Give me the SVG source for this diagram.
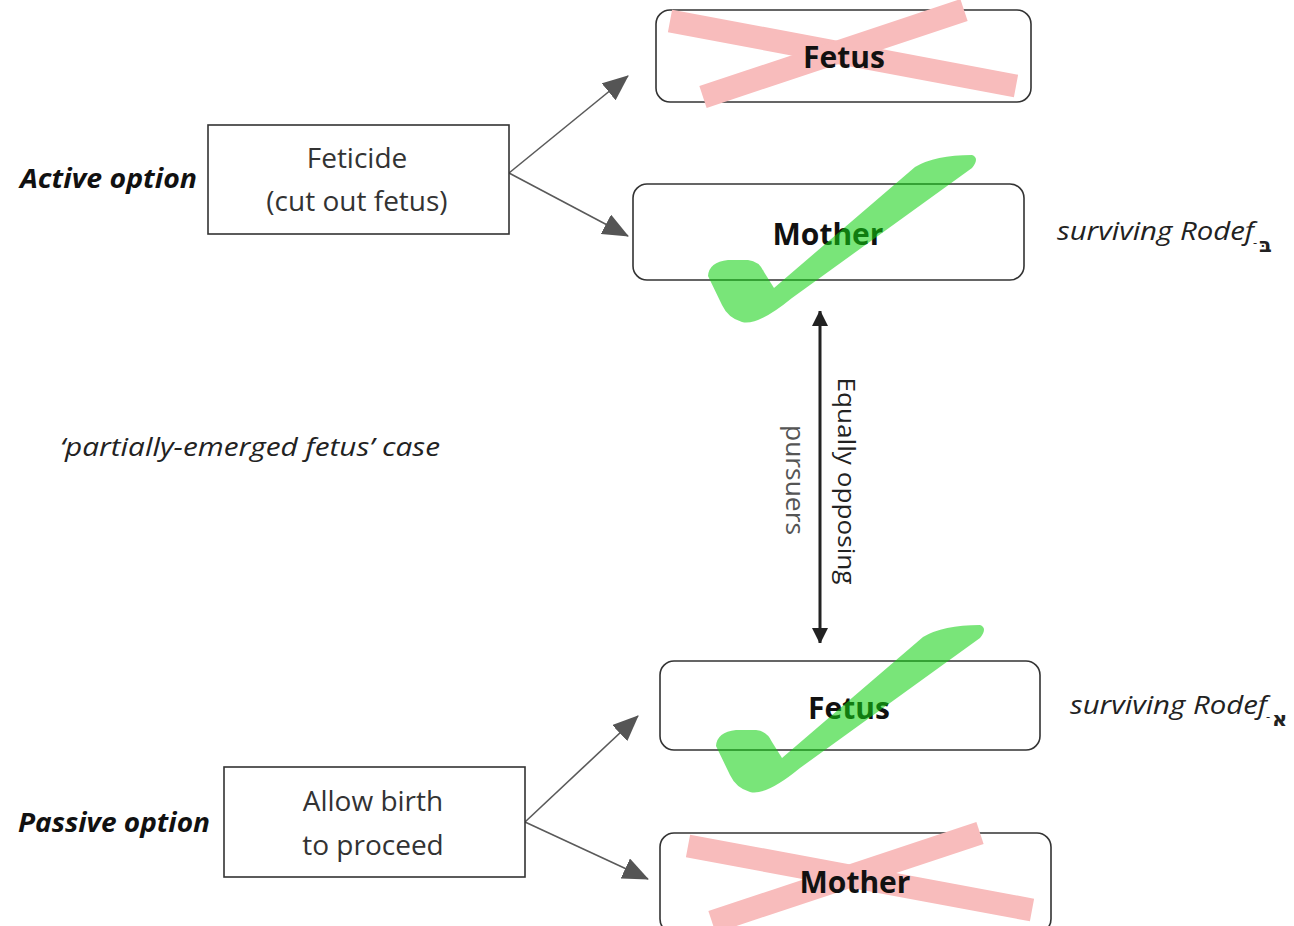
<svg xmlns="http://www.w3.org/2000/svg" width="1294" height="926" viewBox="0 0 1294 926">
  <defs>
    <style>
      .box { fill: #ffffff; stroke: #333333; stroke-width: 1.6; }
      .step { font-family: "Open Sans", "Noto Sans", sans-serif; font-size: 28px; fill: #333333; text-anchor: middle; }
      .party { font-family: "Open Sans", "Noto Sans", sans-serif; font-size: 30px; font-weight: bold; fill: #111111; text-anchor: middle; }
      .option { font-family: "Open Sans", "Noto Sans", sans-serif; font-size: 26px; font-weight: bold; font-style: italic; fill: #111111; }
      .note { font-family: "Open Sans", "Noto Sans", sans-serif; font-size: 26px; font-style: italic; fill: #222222; }
      .heb { font-family: "DejaVu Sans", "Noto Sans", sans-serif; font-size: 21px; font-weight: bold; fill: #222222; }
      .dash { font-family: "Open Sans", "Noto Sans", sans-serif; font-size: 13px; fill: #222222; }
      .flow { stroke: #5a5a5a; stroke-width: 1.6; fill: none; }
      .cross { stroke: #f8bcbc; stroke-width: 23; stroke-linecap: butt; fill: none; }
      .tick { fill: #10d010; opacity: 0.56; }
      .axis { font-family: "Open Sans", "Noto Sans", sans-serif; text-anchor: middle; }
    </style>
    <marker id="head" viewBox="0 0 26 22" markerWidth="26" markerHeight="22" markerUnits="userSpaceOnUse" refX="25" refY="11" orient="auto">
      <path d="M0,0 L26,11 L0,22 Z" fill="#555555"/>
    </marker>
    <marker id="headDark" viewBox="0 0 14 16" markerWidth="14" markerHeight="16" markerUnits="userSpaceOnUse" refX="15" refY="8" orient="auto-start-reverse">
      <path d="M0,0 L16,8 L0,16 Z" fill="#222222"/>
    </marker>
    <path id="tickShape" d="M708,276 Q709,262 728,260 L748,260 Q759,261 764,272 L774,288 L915,167 Q935,155 972,155 Q980,158 972,168 L792,298 Q758,326 742,322 Q728,318 722,305 Z"/>
  </defs>

  <rect width="1294" height="926" fill="#ffffff"/>

  <!-- side labels -->
  <text class="option" x="20" y="188" textLength="177" lengthAdjust="spacingAndGlyphs">Active option</text>
  <text class="option" x="18" y="832" textLength="192" lengthAdjust="spacingAndGlyphs">Passive option</text>
  <text class="note" x="60" y="456" textLength="380" lengthAdjust="spacingAndGlyphs">‘partially-emerged fetus’ case</text>

  <!-- connectors -->
  <g id="connectors">
    <line class="flow" x1="509" y1="173" x2="628" y2="76" marker-end="url(#head)"/>
    <line class="flow" x1="509" y1="173" x2="628" y2="236" marker-end="url(#head)"/>
    <line class="flow" x1="525" y1="822" x2="638" y2="716" marker-end="url(#head)"/>
    <line class="flow" x1="525" y1="822" x2="648" y2="879" marker-end="url(#head)"/>
    <line x1="820" y1="311" x2="820" y2="643" stroke="#222222" stroke-width="3" marker-start="url(#headDark)" marker-end="url(#headDark)"/>
    <text class="axis" transform="translate(846,481) rotate(90)" dy="0.35em" font-size="24" fill="#222222" textLength="207" lengthAdjust="spacingAndGlyphs">Equally opposing</text>
    <text class="axis" transform="translate(795,480) rotate(90)" dy="0.35em" font-size="25" fill="#555555" textLength="110" lengthAdjust="spacingAndGlyphs">pursuers</text>
  </g>

  <!-- active option step -->
  <g id="feticide">
    <rect class="box" x="208" y="125" width="301" height="109"/>
    <text class="step" x="357" y="168">Feticide</text>
    <text class="step" x="357" y="211">(cut out fetus)</text>
  </g>

  <!-- passive option step -->
  <g id="allow-birth">
    <rect class="box" x="224" y="767" width="301" height="110"/>
    <text class="step" x="373" y="811">Allow birth</text>
    <text class="step" x="373" y="855">to proceed</text>
  </g>

  <!-- outcome: fetus lost -->
  <g id="fetus-lost">
    <rect class="box" x="656" y="10" width="375" height="92" rx="14"/>
    <line class="cross" x1="670" y1="21" x2="1016" y2="86"/>
    <line class="cross" x1="703" y1="97" x2="964" y2="10"/>
    <text class="party" x="844" y="68">Fetus</text>
  </g>

  <!-- outcome: mother survives -->
  <g id="mother-saved">
    <rect class="box" x="633" y="184" width="391" height="96" rx="14"/>
    <text class="party" x="828" y="245" font-size="31">Mother</text>
    <use href="#tickShape" class="tick"/>
  </g>

  <!-- outcome: fetus survives -->
  <g id="fetus-saved">
    <rect class="box" x="660" y="661" width="380" height="89" rx="14"/>
    <text class="party" x="849" y="719">Fetus</text>
    <use href="#tickShape" class="tick" transform="translate(8,470)"/>
  </g>

  <!-- outcome: mother lost -->
  <g id="mother-lost">
    <rect class="box" x="660" y="833" width="391" height="100" rx="14"/>
    <line class="cross" x1="688" y1="846" x2="1032" y2="910"/>
    <line class="cross" x1="712" y1="922" x2="980" y2="833"/>
    <text class="party" x="855" y="893" font-size="31">Mother</text>
  </g>

  <!-- survivor notes -->
  <g id="note-mother">
    <text class="note" x="1057" y="240" textLength="197" lengthAdjust="spacingAndGlyphs">surviving Rodef</text>
    <text class="dash" x="1253" y="247">-</text>
    <text class="heb" x="1259" y="252">בּ</text>
  </g>
  <g id="note-fetus">
    <text class="note" x="1070" y="714" textLength="197" lengthAdjust="spacingAndGlyphs">surviving Rodef</text>
    <text class="dash" x="1266" y="721">-</text>
    <text class="heb" x="1272" y="726">א</text>
  </g>
</svg>
